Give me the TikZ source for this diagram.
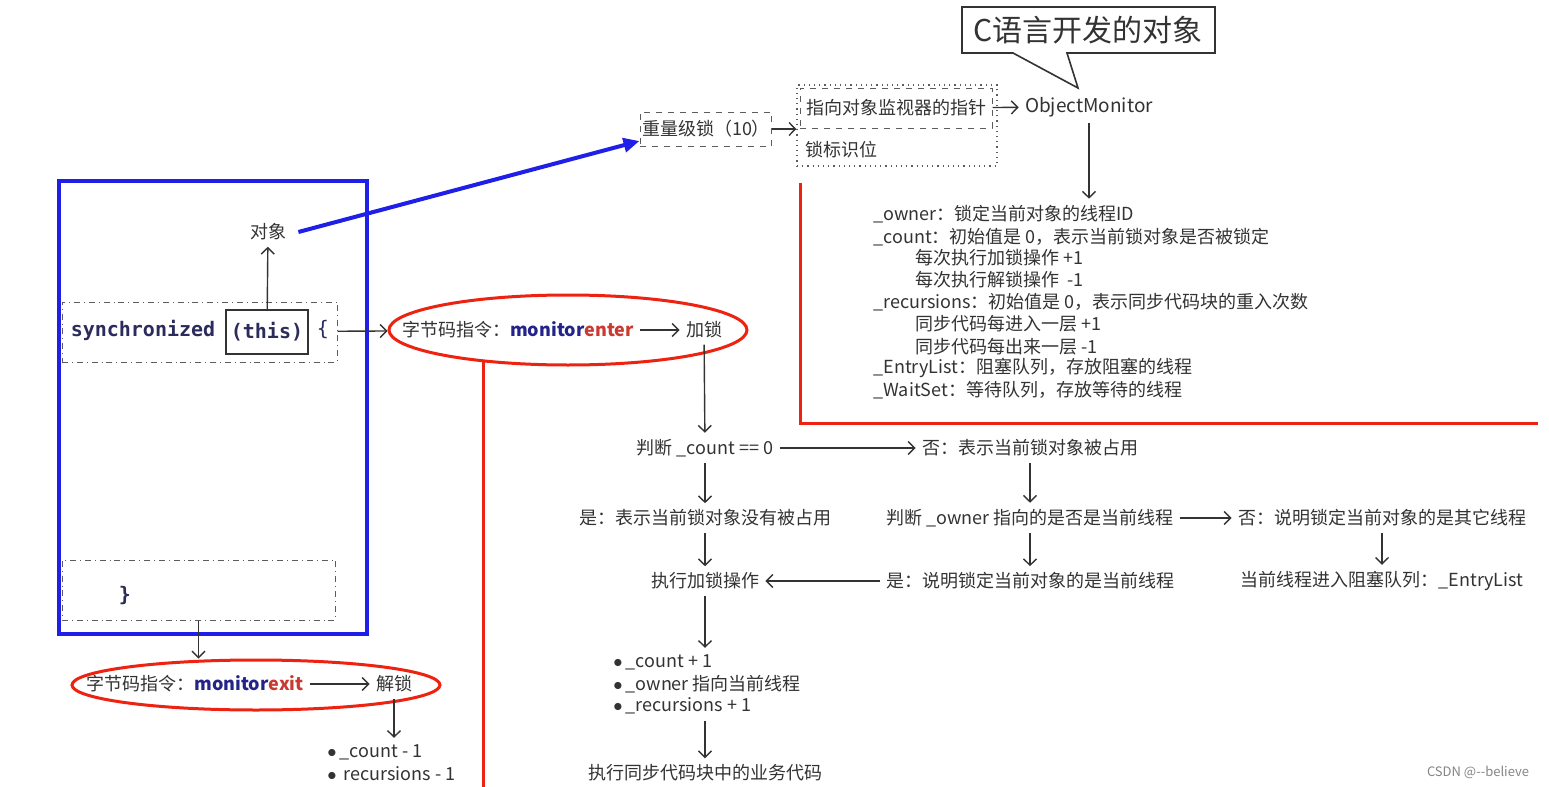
\documentclass[tikz,border=0pt]{standalone}
\usepackage{fontspec}
\setmainfont{Noto Sans CJK SC}
\setmonofont{DejaVu Sans Mono}
\usetikzlibrary{arrows.meta,shapes.geometric}

\definecolor{ink}{HTML}{333333}
\definecolor{frameblue}{HTML}{1F1FE8}
\definecolor{markred}{HTML}{EE2211}
\definecolor{kwnavy}{HTML}{23238A}
\definecolor{kwred}{HTML}{C83A32}
\definecolor{codenavy}{HTML}{2C2C5C}
\def\unit{0.5pt}

\begin{document}
\begin{tikzpicture}[x=\unit, y=-\unit,
    every node/.style={font=\fontsize{9}{10}\selectfont, text=ink, inner sep=3pt},
    arr/.style={draw=ink, line width=0.7pt, -{Straight Barb[length=3.2pt,width=6.5pt]}},
    codebox/.style={draw=ink!80, dash dot, line width=0.5pt},
    lockbox/.style={draw=ink!80, dashed, line width=0.5pt},
    oval/.style={ellipse, draw=markred, line width=1.5pt},
    infoline/.style={anchor=west, inner sep=0pt},
    codefont/.style={font=\ttfamily\bfseries\fontsize{10}{12}\selectfont, text=codenavy}]
  \useasboundingbox[fill=white] (0,0) rectangle (1549,787);

  % code block
  \draw[frameblue, line width=2pt] (59,181) rectangle (367,634);
  \node[codebox, minimum width=137.5pt, minimum height=30pt] (syncBox) at (199.5,332) {};
  \node[codefont] (syncKw) at (143,330) {synchronized};
  \node[codefont, draw=ink, line width=0.6pt, minimum width=41pt, minimum height=22pt, inner sep=1pt] (thisBox) at (267,332) {(this)};
  \node[codefont, font=\ttfamily\fontsize{10}{12}\selectfont] (openBrace) at (323,330) {\{};
  \node (obj) at (268,232) {对象};
  \node[codebox, minimum width=136.5pt, minimum height=30pt] (closeBox) at (198.5,590) {};
  \node[codefont] (closeBrace) at (125,596) {\}};
  \draw[arr] (thisBox) -- (obj);

  % monitorenter
  \node[oval, minimum width=179pt, minimum height=35pt] (enterOval) at (568,330) {};
  \node (enterTxt) at (518,330) {字节码指令：\textbf{\textcolor{kwnavy}{monitor}\textcolor{kwred}{enter}}};
  \node (lock) at (704,330) {加锁};
  \draw[arr] (syncBox) -- (enterOval);
  \draw[arr] (enterTxt) -- (lock);

  % monitorexit
  \node[oval, minimum width=184pt, minimum height=25pt] (exitOval) at (256,685) {};
  \node (exitTxt) at (195,684) {字节码指令：\textbf{\textcolor{kwnavy}{monitor}\textcolor{kwred}{exit}}};
  \node (unlock) at (394,684) {解锁};
  \node[infoline] (dec1) at (327,752) {$\bullet$\,\_count - 1};
  \node[infoline] (dec2) at (327,774) {$\bullet$\, recursions - 1};
  \draw[arr] (closeBox.south) -- (closeBox.south |- exitOval.north);
  \draw[arr] (exitTxt) -- (unlock);
  \draw[arr, shorten >=3pt] (unlock) -- (unlock |- dec1.north);

  % mark word
  \node[lockbox, minimum width=64pt, minimum height=17pt, inner sep=1pt] (heavy) at (706,129) {重量级锁（10）};
  \node[draw=ink!80, dotted, line width=0.6pt, minimum width=100pt, minimum height=40.5pt] (markBox) at (897,125.5) {};
  \node[lockbox, minimum width=96pt, minimum height=20pt, inner sep=1pt] (ptrBox) at (896,108) {指向对象监视器的指针};
  \node (flag) at (841,150) {锁标识位};
  \node[font=\fontsize{9.5}{11}\selectfont] (mon) at (1089,107) {ObjectMonitor};
  \draw[frameblue, line width=2pt, -{Triangle[length=8pt,width=7pt]}] ([xshift=3pt]obj.east) -- ([yshift=-6pt]heavy.west);
  \draw[arr] (heavy) -- (heavy -| markBox.west);
  \draw[arr] (ptrBox) -- (mon);

  % callout
  \draw[draw=ink, line width=0.8pt, fill=white] (962,7) -- (1215,7) -- (1215,53) -- (1067,53) -- (1078,88) -- (1013,53) -- (962,53) -- cycle;
  \node[font=\fontsize{15}{17}\selectfont] (cnote) at (1088,30) {C语言开发的对象};

  % ObjectMonitor fields
  \node[infoline] (info1) at (873,214) {\_owner：锁定当前对象的线程ID};
  \node[infoline] (info2) at (873,237) {\_count：初始值是 0，表示当前锁对象是否被锁定};
  \node[infoline] (info3) at (915,258) {每次执行加锁操作 +1};
  \node[infoline] (info4) at (915,280) {每次执行解锁操作\ \ -1};
  \node[infoline] (info5) at (873,302) {\_recursions：初始值是 0，表示同步代码块的重入次数};
  \node[infoline] (info6) at (915,324) {同步代码每进入一层 +1};
  \node[infoline] (info7) at (915,347) {同步代码每出来一层 -1};
  \node[infoline] (info8) at (873,368) {\_EntryList：阻塞队列，存放阻塞的线程};
  \node[infoline] (info9) at (873,390) {\_WaitSet：等待队列，存放等待的线程};
  \draw[arr, shorten >=3pt] (mon) -- (mon |- info1.north);

  % flow
  \node (cnt0) at (705,448) {判断 \_count == 0};
  \node (occ) at (1030,448) {否：表示当前锁对象被占用};
  \node (free) at (705,518) {是：表示当前锁对象没有被占用};
  \node (own) at (1030,518) {判断 \_owner 指向的是否是当前线程};
  \node (other) at (1382,518) {否：说明锁定当前对象的是其它线程};
  \node (entry) at (1382,581) {当前线程进入阻塞队列：\_EntryList};
  \node (self) at (1030,581) {是：说明锁定当前对象的是当前线程};
  \node (lockop) at (705,581) {执行加锁操作};
  \node[infoline] (inc1) at (613,662) {$\bullet$\,\_count + 1};
  \node[infoline] (inc2) at (613,684) {$\bullet$\,\_owner 指向当前线程};
  \node[infoline] (inc3) at (613,706) {$\bullet$\,\_recursions + 1};
  \node (biz) at (705,773) {执行同步代码块中的业务代码};
  \draw[arr] (lock) -- (cnt0);
  \draw[arr] (cnt0) -- (occ);
  \draw[arr] (cnt0) -- (free);
  \draw[arr] (occ) -- (own);
  \draw[arr] (own) -- (other);
  \draw[arr] (other) -- (entry);
  \draw[arr] (own) -- (self);
  \draw[arr] (self) -- (lockop);
  \draw[arr] (free) -- (lockop);
  \draw[arr, shorten >=3pt] (lockop) -- (lockop |- inc1.north);
  \draw[arr, shorten <=3pt] (inc3.south -| lockop) -- (biz);

  % red separators
  \draw[markred, line width=1.5pt] (483,362) -- (483,787);
  \draw[markred, line width=1.5pt] (800,183) -- (800,423) -- (1538,423);

  \node[font=\fontsize{6.5}{8}\selectfont, text=ink!60] (wmark) at (1478,772) {CSDN @-\kern0pt-believe};
\end{tikzpicture}
\end{document}
